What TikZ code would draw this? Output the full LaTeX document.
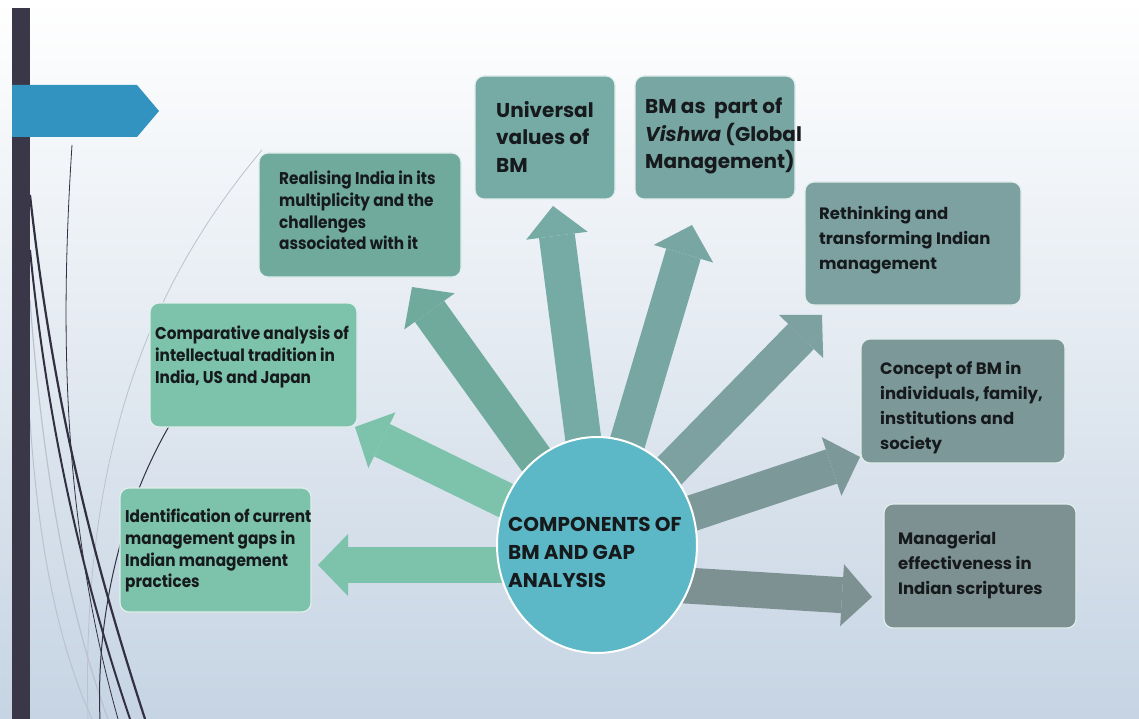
\documentclass[tikz,border=0pt]{standalone}
\usepackage{fontspec}
\setmainfont{Poppins}
\newfontfamily\narrowfont{Poppins}[FakeStretch=0.9]
\usetikzlibrary{arrows.meta,shapes.geometric}

\definecolor{slidebar}{RGB}{58,56,72}
\definecolor{banner}{RGB}{51,147,192}
\definecolor{wisp}{RGB}{50,48,66}
\definecolor{wispgrey}{RGB}{188,194,204}
\definecolor{bgmid}{RGB}{232,237,242}
\definecolor{bgbot}{RGB}{198,212,227}
\definecolor{hubblue}{RGB}{92,184,198}
\definecolor{cgreen}{RGB}{125,194,170}
\definecolor{creal}{RGB}{112,170,157}
\definecolor{cuniv}{RGB}{117,170,165}
\definecolor{cbm}{RGB}{120,166,163}
\definecolor{creth}{RGB}{125,161,161}
\definecolor{cconc}{RGB}{124,152,153}
\definecolor{cmana}{RGB}{125,145,146}
\definecolor{ink}{RGB}{22,26,28}

\begin{document}
\begin{tikzpicture}[x=1pt,y=-1pt,
    cbox/.style={rectangle, rounded corners=9pt, draw={rgb,255:red,226;green,238;blue,236},
      line width=1.2pt, inner sep=0pt},
    txt/.style={inner sep=0pt, align=left, text=ink, anchor=north west},
    narrowtxt/.style={txt, font=\narrowfont\bfseries\fontsize{17}{21.7}\selectfont},
    bigtxt/.style={txt, font=\bfseries\fontsize{20}{27.5}\selectfont},
    midtxt/.style={txt, font=\bfseries\fontsize{16.5}{25}\selectfont},
    blockarr/.style={line width=36pt, -{Triangle[length=30pt, width=62pt, line width=0pt]}}]

  \useasboundingbox (0,0) rectangle (1139,719);
  \shade[top color=white, middle color=bgmid, bottom color=bgbot] (0,0) rectangle (1139,719);

  % wisps on the left
  \draw[wispgrey, line width=0.8pt] (262,150) .. controls (170,260) and (80,420) .. (88,719);
  \draw[wispgrey, line width=1.2pt] (30,300) .. controls (45,500) and (75,630) .. (108,719);
  \draw[wispgrey, line width=1pt] (30,420) .. controls (40,570) and (65,660) .. (92,719);
  \draw[wisp, line width=1pt] (200,380) .. controls (130,470) and (95,600) .. (100,719);
  \draw[wisp, line width=0.8pt] (72,145) .. controls (60,330) and (62,520) .. (118,719);
  \draw[wisp, line width=2.2pt] (30,195) .. controls (55,420) and (100,580) .. (145,719);
  \draw[wisp, line width=2pt] (30,250) .. controls (50,450) and (90,600) .. (130,719);

  \fill[slidebar] (12,8) rectangle (30,719);
  \fill[banner] (12,85) -- (137,85) -- (159,111) -- (137,137) -- (12,137) -- cycle;

  % arrow tips
  \coordinate (hubc) at (597,545);
  \coordinate (t-univ) at (553,206);
  \coordinate (t-bm) at (692,225);
  \coordinate (t-reth) at (822,315);
  \coordinate (t-conc) at (860,457);
  \coordinate (t-mana) at (872,597);
  \coordinate (t-iden) at (318,565);
  \coordinate (t-comp) at (355,427);
  \coordinate (t-real) at (412,287);

  \foreach \tip/\col in {t-univ/cuniv, t-bm/cbm, t-reth/creth, t-conc/cconc, t-comp/cgreen, t-real/creal}
    \draw[blockarr, \col] (hubc) -- (\tip);
  \draw[blockarr, cgreen] (hubc |- t-iden) -- (t-iden);
  \draw[blockarr, cmana] ([yshift=-35pt]hubc) -- (t-mana);

  % boxes
  \node[cbox, fill=creal, minimum width=202pt, minimum height=124pt] (real) at (360,215) {};
  \node[cbox, fill=cuniv, minimum width=140pt, minimum height=123pt] (univ) at (545,137.5) {};
  \node[cbox, fill=cbm, minimum width=160pt, minimum height=123pt] (bm) at (715,137.5) {};
  \node[cbox, fill=creth, minimum width=216pt, minimum height=123pt] (reth) at (913,243.5) {};
  \node[cbox, fill=cconc, minimum width=204pt, minimum height=124pt] (conc) at (963,401) {};
  \node[cbox, fill=cmana, minimum width=192pt, minimum height=124pt] (mana) at (980,566) {};
  \node[cbox, fill=cgreen, minimum width=207pt, minimum height=124pt] (comp) at (253.5,365) {};
  \node[cbox, fill=cgreen, minimum width=191pt, minimum height=124pt] (iden) at (215.5,550) {};

  \node[ellipse, fill=hubblue, draw=white, line width=2pt, minimum width=200pt,
    minimum height=216pt] (hub) at (hubc) {};

  % texts
  \node[narrowtxt] (real-t) at (279,171) {Realising India in its\\multiplicity and the\\challenges\\associated with it};
  \node[narrowtxt] (comp-t) at (155,326) {Comparative analysis of\\intellectual tradition in\\India, US and Japan};
  \node[narrowtxt] (iden-t) at (125,509) {Identification of current\\management gaps in\\Indian management\\practices};
  \node[bigtxt] (univ-t) at (496,101) {Universal\\values of\\BM};
  \node[bigtxt] (bm-t) at (645,98) {BM as \ part of\\\textit{Vishwa} (Global\\Management)};
  \node[midtxt] (reth-t) at (819,206) {Rethinking and\\transforming Indian\\management};
  \node[midtxt] (conc-t) at (880,361) {Concept of BM in\\individuals, family,\\institutions and\\society};
  \node[midtxt] (mana-t) at (898,531) {Managerial\\effectiveness in\\Indian scriptures};
  \node[txt, font=\bfseries\fontsize{20}{28}\selectfont] (hub-t) at (508,517) {COMPONENTS OF\\BM AND GAP\\ANALYSIS};

\end{tikzpicture}
\end{document}
